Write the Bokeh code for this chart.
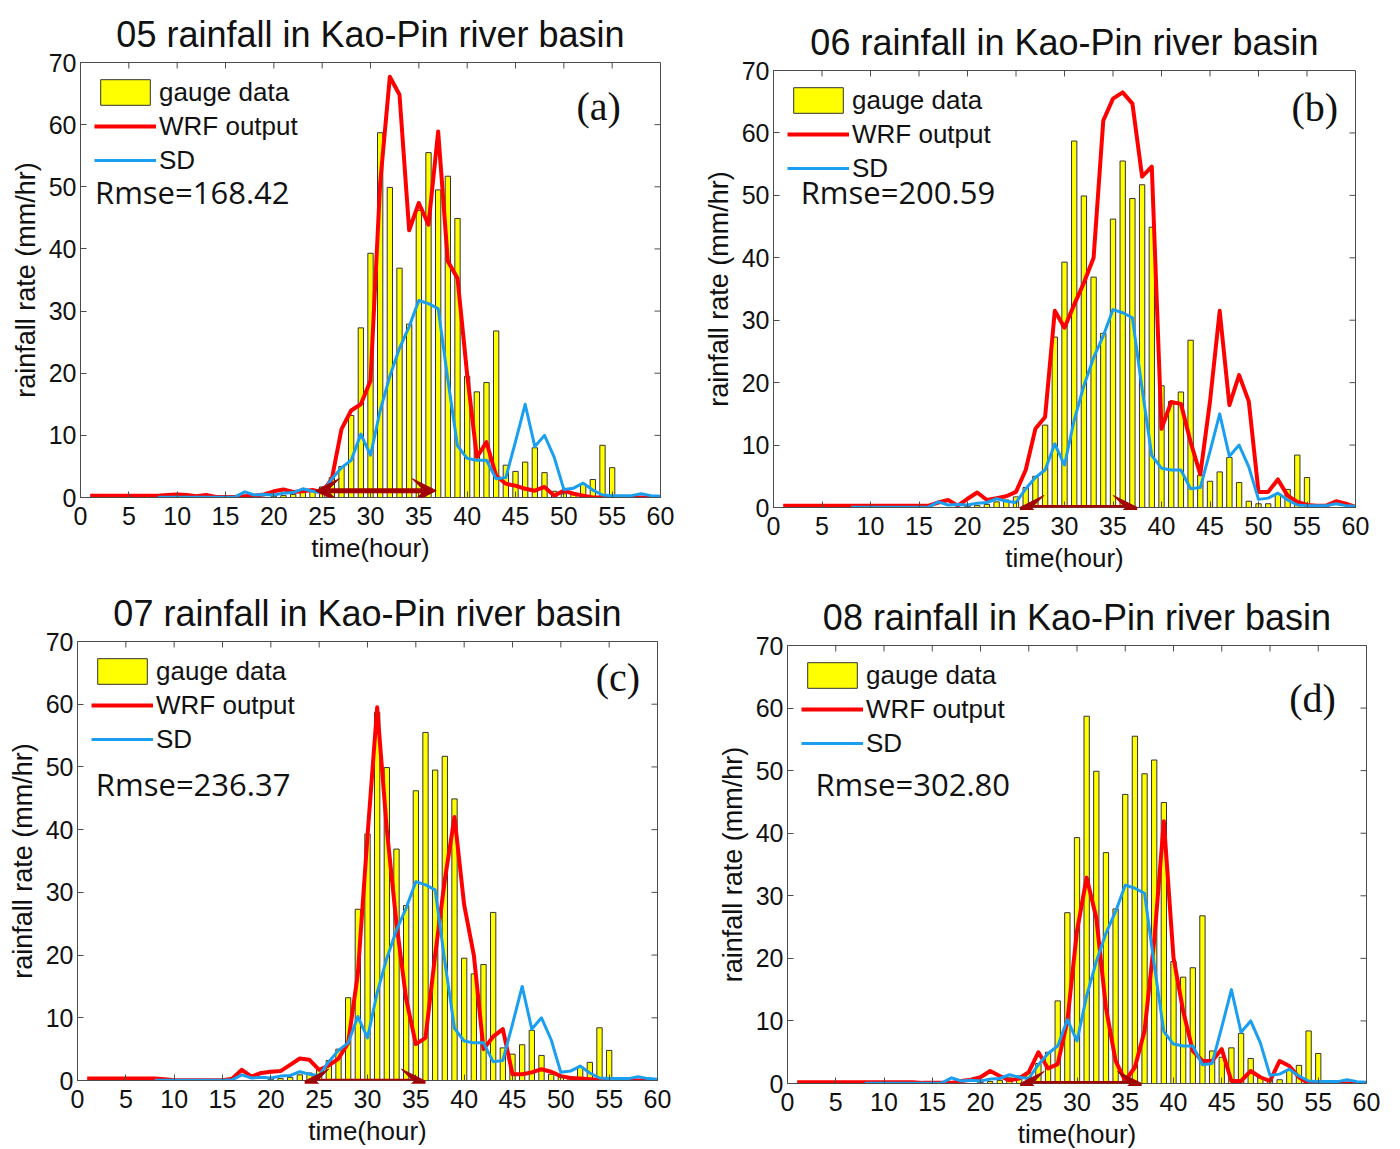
import math
from bokeh.plotting import figure
from bokeh.models import (ColumnDataSource, Legend, LegendItem, Label, Arrow,
                          VeeHead, Range1d, FixedTicker, Spacer)
from bokeh.layouts import column, row
from bokeh.embed import file_html
from bokeh.resources import INLINE

NAN = float("nan")

# ---------------- data ----------------
hours = list(range(1, 61))
x_ticks = list(range(0, 61, 5))
y_ticks = list(range(0, 71, 10))
X_MAX = 60
Y_MAX = 70

gauge_hours = list(range(20, 56))
gauge = [0.2, 0.3, 0.5, 0.9, 1.2, 1.7, 3.2, 5.0, 13.2, 27.3,
         39.3, 58.7, 49.9, 36.9, 27.9, 46.2, 55.5, 49.5, 51.7, 44.9,
         19.5, 17.0, 18.5, 26.8, 5.2, 4.2, 5.7, 8.0, 4.0, 1.0,
         0.6, 0.6, 2.2, 2.9, 8.4, 4.8]

sd = [NAN, NAN, NAN, NAN, NAN, NAN, NAN,
      0.05, 0.05, 0.05, 0.05, 0.05, 0.05, 0.05, 0.05, 0.1, 0.9, 0.4, 0.5, 0.4,
      0.7, 0.8, 1.4, 1.0, 0.8, 3.0, 4.8, 6.0, 10.2, 6.8,
      14.0, 19.5, 24.0, 27.5, 31.7, 31.2, 30.4, 19.0, 8.3, 6.3,
      6.0, 6.0, 3.0, 3.2, 9.0, 15.0, 8.2, 10.0, 6.5, 1.3,
      1.5, 2.3, 1.2, 0.4, 0.3, 0.3, 0.3, 0.6, 0.3, 0.2]

wrf_05 = [0.3, 0.3, 0.3, 0.3, 0.3, 0.3, 0.3, 0.3, 0.4, 0.5,
          0.4, 0.2, 0.4, 0.1, 0.1, 0.1, 0.2, 0.3, 0.5, 1.0,
          1.3, 0.9, 1.0, 1.2, 0.8, 3.0, 11.0, 14.0, 15.0, 18.8,
          50.6, 67.7, 64.8, 43.0, 47.4, 43.9, 58.9, 38.0, 35.3, 19.8,
          6.5, 8.9, 3.5, 2.2, 1.9, 1.4, 1.1, 1.7, 0.3, 1.1,
          0.6, 0.3, 0.0, 0.0, 0.0, 0.0, 0.0, 0.0, 0.0, 0.0]

wrf_06 = [0.3, 0.3, 0.3, 0.3, 0.3, 0.3, 0.3, 0.3, 0.3, 0.3,
          0.3, 0.3, 0.3, 0.3, 0.3, 0.3, 0.8, 1.2, 0.3, 1.4,
          2.4, 1.2, 1.5, 1.8, 2.5, 6.0, 12.6, 14.5, 31.5, 28.8,
          32.5, 36.0, 40.0, 62.0, 65.5, 66.5, 64.7, 53.0, 54.6, 12.6,
          16.9, 16.6, 10.5, 5.3, 17.0, 31.5, 16.4, 21.2, 17.0, 2.5,
          2.5, 4.5, 1.9, 0.9, 0.4, 0.3, 0.3, 1.0, 0.6, 0.1]

wrf_07 = [0.3, 0.3, 0.3, 0.3, 0.3, 0.3, 0.3, 0.3, 0.2, 0.05,
          0.05, 0.05, 0.05, 0.05, 0.05, 0.3, 1.7, 0.6, 1.2, 1.4,
          1.5, 2.5, 3.5, 3.3, 1.7, 2.4, 3.5, 6.0, 17.0, 39.0,
          59.5, 40.0, 25.0, 13.0, 5.8, 6.8, 20.0, 32.0, 42.0, 28.0,
          20.0, 5.0, 7.0, 8.2, 1.0, 1.0, 1.3, 1.8, 1.4, 0.7,
          0.4, 0.3, 0.2, 0.1, 0.0, 0.0, 0.0, 0.0, 0.0, 0.0]

wrf_08 = [0.2, 0.2, 0.2, 0.2, 0.2, 0.2, 0.2, 0.2, 0.2, 0.2,
          0.2, 0.2, 0.2, 0.1, 0.1, 0.1, 0.1, 0.4, 0.6, 1.0,
          2.0, 1.2, 0.5, 0.8, 1.8, 5.0, 2.4, 3.1, 10.0, 24.4,
          32.9, 26.5, 12.1, 3.6, 0.4, 2.6, 8.4, 22.8, 41.9, 20.1,
          11.6, 5.2, 3.6, 3.6, 5.5, 0.4, 0.4, 2.0, 1.0, 0.4,
          3.6, 2.8, 1.0, 0.0, 0.0, 0.0, 0.0, 0.0, 0.0, 0.0]

titles = ["05 rainfall in Kao-Pin river basin", "06 rainfall in Kao-Pin river basin",
          "07 rainfall in Kao-Pin river basin", "08 rainfall in Kao-Pin river basin"]
rmse_texts = ["Rmse=168.42", "Rmse=200.59", "Rmse=236.37", "Rmse=302.80"]
tags = ["(a)", "(b)", "(c)", "(d)"]
wrf_series = [wrf_05, wrf_06, wrf_07, wrf_08]

# annotation anchors (data units)
rmse_pos = [(1.5, 49.1), (2.8, 50.5), (1.9, 47.2), (2.9, 47.8)]
tag_pos = [(53.6, 63.0), (55.8, 64.1), (55.9, 64.3), (54.4, 61.5)]
arrow_ranges = [(24.3, 36.8, 1.1), (25.4, 37.5, 0.0), (23.5, 36.0, -0.1), (24.1, 36.7, 0.0)]

# geometry: (frame_w, frame_h, left, right, top, bottom, spacer_above)
geom = [(580, 435, 80, 40, 54, 78, 0),
        (582, 437, 73, 45, 54, 68, 8),
        (580, 439, 77, 43, 66, 69, 0),
        (579, 438, 87, 34, 66, 66, 4)]
TOP_GAP = 7

SANS = "Liberation Sans"
AX = "#4d4d4d"
ARROW_C = "#a30000"
TICK_LEN = 6


def make_panel(i):
    fw, fh, bl, br, bt, bb, _ = geom[i]
    p = figure(frame_width=fw, frame_height=fh, output_backend="svg", toolbar_location=None,
               x_range=Range1d(0, X_MAX), y_range=Range1d(0, Y_MAX),
               min_border_left=bl, min_border_right=br,
               min_border_top=bt, min_border_bottom=bb,
               title=titles[i])
    p.title.text_font = SANS
    p.title.text_font_size = "36px"
    p.title.text_font_style = "normal"
    p.title.text_color = "#111111"
    p.title.align = "center"
    p.title.vertical_align = "top"
    p.title.standoff = 12
    p.grid.visible = False
    p.outline_line_color = AX
    p.outline_line_width = 1

    for ax in (p.xaxis[0], p.yaxis[0]):
        ax.major_tick_in = TICK_LEN
        ax.major_tick_out = 0
        ax.minor_tick_line_color = None
        ax.axis_line_color = AX
        ax.major_tick_line_color = AX
        ax.major_label_text_font = SANS
        ax.major_label_text_font_size = "25px"
        ax.major_label_text_color = "#111111"
        ax.axis_label_text_font = SANS
        ax.axis_label_text_font_style = "normal"
        ax.axis_label_text_color = "#111111"
    p.xaxis.ticker = FixedTicker(ticks=x_ticks)
    p.yaxis.ticker = FixedTicker(ticks=y_ticks)
    p.xaxis.axis_label = "time(hour)"
    p.yaxis.axis_label = "rainfall rate (mm/hr)"
    p.xaxis.axis_label_text_font_size = "26px"
    p.yaxis.axis_label_text_font_size = "27px"
    p.xaxis.major_label_standoff = 9
    p.xaxis.axis_label_standoff = 5
    p.yaxis.major_label_standoff = 4
    p.yaxis.axis_label_standoff = 5

    # mirrored (box) ticks on top and right, derived from the tick lists
    dy = TICK_LEN * Y_MAX / fh
    dx = TICK_LEN * X_MAX / fw
    tsrc = ColumnDataSource(dict(x=x_ticks, y0=[Y_MAX] * len(x_ticks),
                                 y1=[Y_MAX - dy] * len(x_ticks)))
    p.segment(x0="x", y0="y0", x1="x", y1="y1", source=tsrc, line_color=AX, line_width=1)
    rsrc = ColumnDataSource(dict(y=y_ticks, x0=[X_MAX] * len(y_ticks),
                                 x1=[X_MAX - dx] * len(y_ticks)))
    p.segment(x0="x0", y0="y", x1="x1", y1="y", source=rsrc, line_color=AX, line_width=1)

    bsrc = ColumnDataSource(dict(h=gauge_hours, v=gauge))
    bars = p.vbar(x="h", top="v", width=0.55, source=bsrc,
                  fill_color="#ffff00", line_color="#333333", line_width=1)
    lsrc = ColumnDataSource(dict(h=hours, wrf=wrf_series[i], sd=sd))
    red = p.line(x="h", y="wrf", source=lsrc, line_color="#ff0000", line_width=4,
                 line_join="round")
    blue = p.line(x="h", y="sd", source=lsrc, line_color="#1a9ef0", line_width=3,
                  line_join="round")

    x0, x1, ya = arrow_ranges[i]
    p.add_layout(Arrow(start=VeeHead(size=24, fill_color=ARROW_C, line_color=ARROW_C),
                       end=VeeHead(size=24, fill_color=ARROW_C, line_color=ARROW_C),
                       x_start=x0, y_start=ya, x_end=x1, y_end=ya,
                       line_color=ARROW_C, line_width=5))

    legend = Legend(items=[LegendItem(label="gauge data", renderers=[bars]),
                           LegendItem(label="WRF output", renderers=[red]),
                           LegendItem(label="SD", renderers=[blue])],
                    location="top_left", margin=14, padding=0, spacing=2,
                    glyph_width=62, glyph_height=32, label_standoff=3,
                    label_text_font=SANS, label_text_font_size="26px",
                    label_text_color="#111111",
                    border_line_color=None, background_fill_alpha=0)
    p.add_layout(legend)

    rx, ry = rmse_pos[i]
    p.add_layout(Label(x=rx, y=ry, text=rmse_texts[i], text_font="Open Sans",
                       text_font_size="31px", text_color="#111111",
                       text_baseline="middle", text_align="left"))
    tx, ty = tag_pos[i]
    p.add_layout(Label(x=tx, y=ty, text=tags[i], text_font="Liberation Serif",
                       text_font_size="40px", text_color="#111111",
                       text_baseline="middle", text_align="center"))
    return p


def cell(i):
    p = make_panel(i)
    gap = geom[i][6]
    if gap:
        return column(Spacer(width=10, height=gap), p)
    return p


layout = column(Spacer(width=10, height=TOP_GAP),
                row(cell(0), cell(1)), row(cell(2), cell(3)))

open("out.html", "w").write(file_html(layout, INLINE))
